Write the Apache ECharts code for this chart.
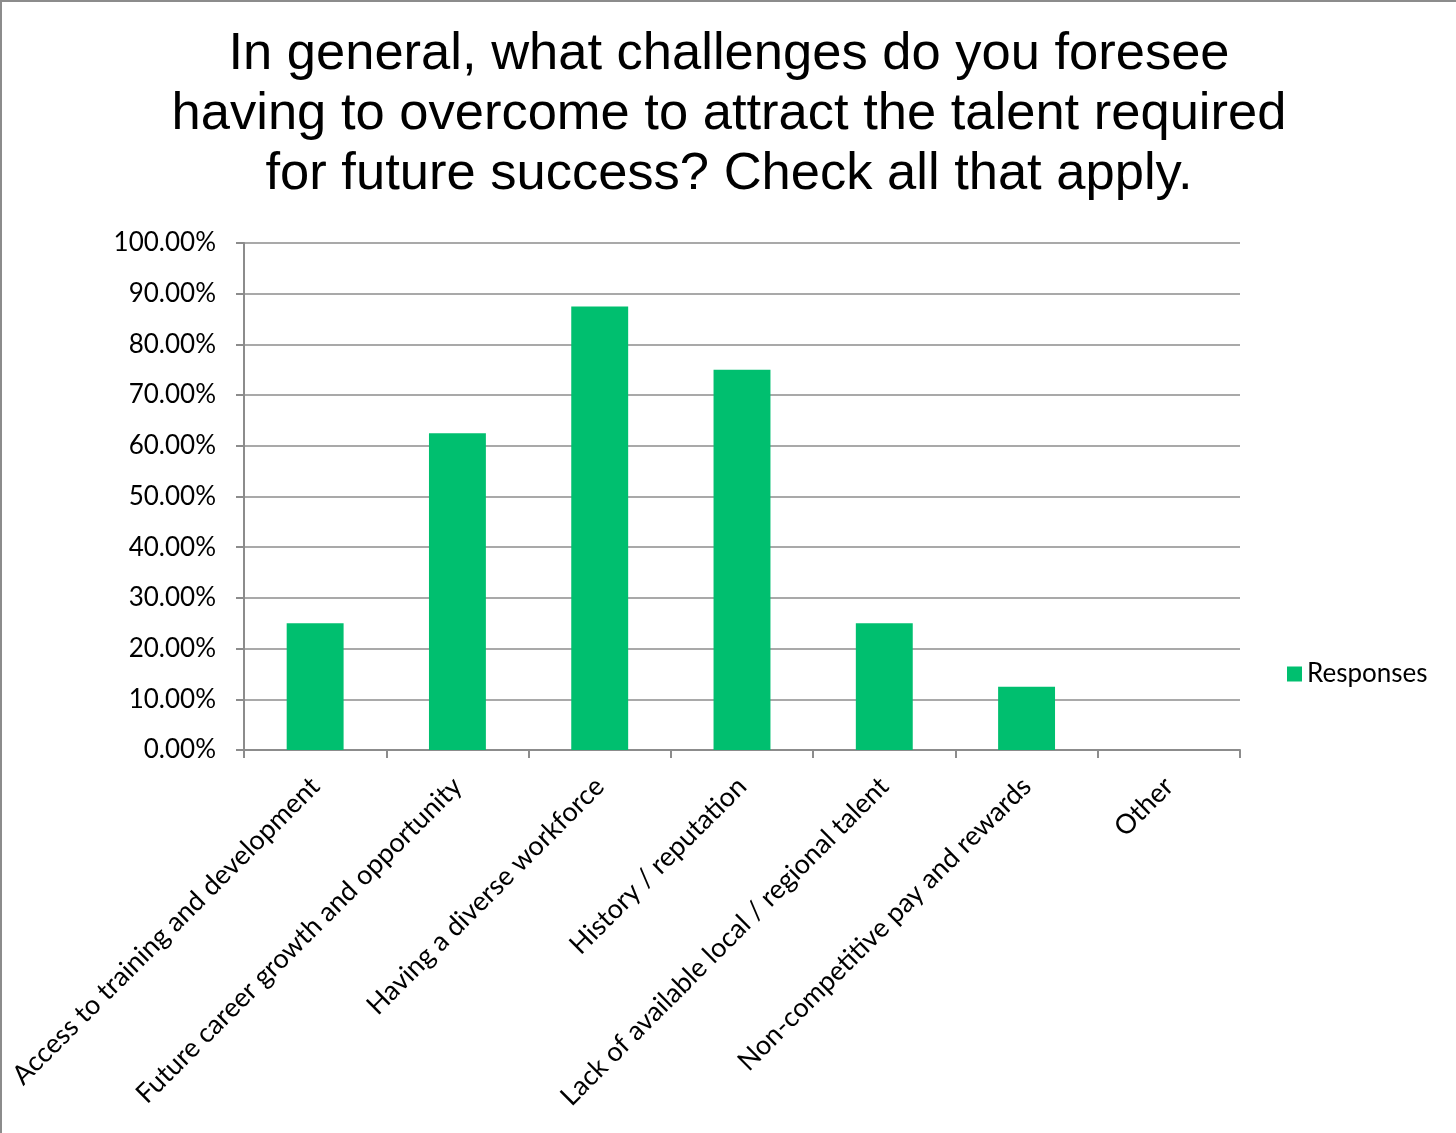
<!DOCTYPE html>
<html>
<head>
<meta charset="utf-8">
<script src="https://cdn.jsdelivr.net/npm/echarts@6/dist/echarts.min.js"></script>
<style>
  html, body { margin: 0; padding: 0; background: #fff; }
  #chart { width: 1456px; height: 1133px; box-sizing: border-box; border-top: 2px solid #8c8c8c; border-left: 2px solid #8c8c8c; }
</style>
</head>
<body>
<div id="chart"></div>
<script>
const categories = [
  'Access to training and development',
  'Future career growth and opportunity',
  'Having a diverse workforce',
  'History / reputation',
  'Lack of available local / regional talent',
  'Non-competitive pay and rewards',
  'Other'
];
const responses = [25, 62.5, 87.5, 75, 25, 12.5, 0];
const seriesName = 'Responses';
const titleText = 'In general, what challenges do you foresee\nhaving to overcome to attract the talent required\nfor future success? Check all that apply.';

const chart = echarts.init(document.getElementById('chart'));
const axisGray = '#8c8c8c';
const labelFont = 'Lato, "Open Sans", sans-serif';

chart.setOption({
  animation: false,
  title: {
    text: titleText,
    left: 'center',
    top: 18,
    textStyle: {
      fontFamily: '"Liberation Sans", Arial, sans-serif',
      fontSize: 52.5,
      fontWeight: 'normal',
      color: '#000',
      lineHeight: 60
    }
  },
  legend: {
    data: [seriesName],
    left: 1280,
    top: 654,
    itemWidth: 15,
    itemHeight: 15,
    itemGap: 8,
    icon: 'rect',
    textStyle: { fontFamily: labelFont, fontSize: 26, color: '#000' }
  },
  grid: { left: 242, right: 216, top: 241, bottom: 383, containLabel: false },
  xAxis: {
    type: 'category',
    data: categories,
    axisLine: { lineStyle: { color: axisGray, width: 2 } },
    axisTick: { show: true, length: 8, alignWithLabel: false, lineStyle: { color: axisGray, width: 2 } },
    axisLabel: {
      rotate: 45,
      interval: 0,
      margin: 32,
      fontFamily: labelFont,
      fontSize: 27,
      color: '#000'
    }
  },
  yAxis: {
    type: 'value',
    min: 0,
    max: 100,
    interval: 10,
    axisLine: { show: true, lineStyle: { color: axisGray, width: 2 } },
    axisTick: { show: true, length: 8, lineStyle: { color: axisGray, width: 2 } },
    splitLine: { lineStyle: { color: axisGray, width: 1.5 } },
    axisLabel: {
      margin: 28,
      fontFamily: labelFont,
      fontSize: 26,
      color: '#000',
      formatter: v => v.toFixed(2) + '%'
    }
  },
  series: [{
    name: seriesName,
    type: 'bar',
    data: responses,
    barWidth: '40%',
    itemStyle: { color: '#00bf6f' }
  }]
});
</script>
</body>
</html>
